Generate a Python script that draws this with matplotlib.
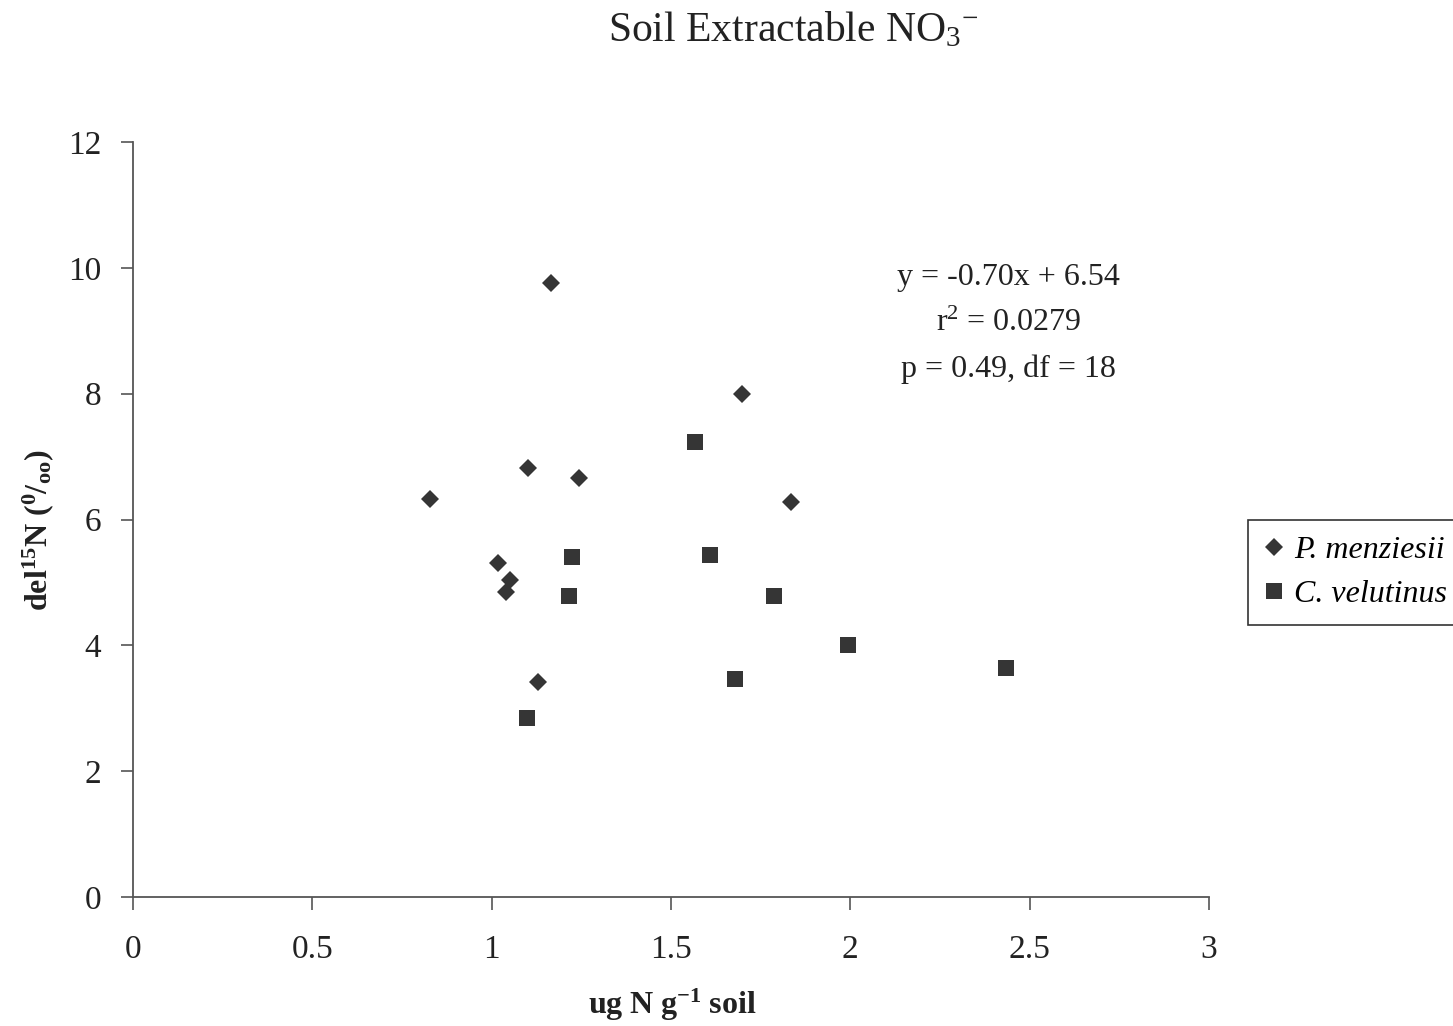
import matplotlib

matplotlib.use("Agg")

import matplotlib.pyplot as plt

plt.rcParams["font.family"] = ["Liberation Serif", "DejaVu Serif"]
plt.rcParams["mathtext.fontset"] = "custom"
plt.rcParams["mathtext.rm"] = "Liberation Serif"
plt.rcParams["mathtext.it"] = "Liberation Serif:italic"
plt.rcParams["mathtext.bf"] = "Liberation Serif:bold"

# P. menziesii (diamonds)
pm_x = [1.165, 1.698, 1.101, 1.243, 0.828, 1.834, 1.018, 1.051, 1.040, 1.129]
pm_y = [9.76, 8.00, 6.82, 6.66, 6.33, 6.28, 5.31, 5.04, 4.85, 3.42]

# C. velutinus (squares)
cv_x = [1.567, 1.224, 1.609, 1.215, 1.787, 1.678, 1.098, 1.993, 2.434]
cv_y = [7.23, 5.41, 5.44, 4.79, 4.79, 3.47, 2.85, 4.01, 3.64]

x_ticks = [0, 0.5, 1, 1.5, 2, 2.5, 3]
x_tick_labels = ["0", "0.5", "1", "1.5", "2", "2.5", "3"]
y_ticks = [0, 2, 4, 6, 8, 10, 12]

stats_lines = ["y = -0.70x + 6.54", "r$^{2}$ = 0.0279", "p = 0.49, df = 18"]

marker_color = "#353535"
axis_color = "#555555"
text_color = "#222222"

fig = plt.figure(figsize=(14.53, 10.26), dpi=100)
ax = fig.add_axes([0.0915, 0.1257, 0.7405, 0.7359])

ax.plot(pm_x, pm_y, linestyle="none", marker="D", markersize=9,
        color=marker_color, markeredgewidth=0, label="P. menziesii")
ax.plot(cv_x, cv_y, linestyle="none", marker="s", markersize=12,
        color=marker_color, markeredgewidth=0, label="C. velutinus")

ax.set_xlim(0, 3)
ax.set_ylim(0, 12)
ax.set_xticks(x_ticks)
ax.set_xticklabels(x_tick_labels)
ax.set_yticks(y_ticks)

for side in ("top", "right"):
    ax.spines[side].set_visible(False)
for side in ("left", "bottom"):
    ax.spines[side].set_color(axis_color)
    ax.spines[side].set_linewidth(1.3)

ax.tick_params(axis="both", direction="out", length=9, width=1.2,
               color=axis_color, labelsize=24, labelcolor=text_color)
ax.tick_params(axis="x", pad=18)
ax.tick_params(axis="y", pad=14)

fig.text(672 / 1453, 1 - 1005 / 1026, r"$\mathbf{ug\ N\ g^{-1}\ soil}$",
         fontsize=23, ha="center", va="center", color=text_color)
fig.text(38 / 1453, 1 - 530 / 1026, r"$\mathbf{del^{15}N\ (^{0}/_{oo})}$",
         fontsize=23, ha="center", va="center", rotation=90, color=text_color)

fig.text(0.546, 0.97, r"Soil Extractable NO$_{3}{}^{-}$", fontsize=30,
         ha="center", va="center", color=text_color)

for i, line in enumerate(stats_lines):
    fig.text(0.694, 0.73 - i * 0.045, line, fontsize=23,
             ha="center", va="center", color=text_color)

legend = fig.legend(loc="upper left", bbox_to_anchor=(1248 / 1453, 1 - 520 / 1026),
                    prop={"style": "italic", "size": 23},
                    handlelength=0.6, handletextpad=0.35, borderpad=0.5,
                    labelspacing=0.45, fancybox=False, framealpha=1,
                    edgecolor="#333333", borderaxespad=0)
legend.get_frame().set_linewidth(1.2)

fig.savefig("out.png", dpi=100)
